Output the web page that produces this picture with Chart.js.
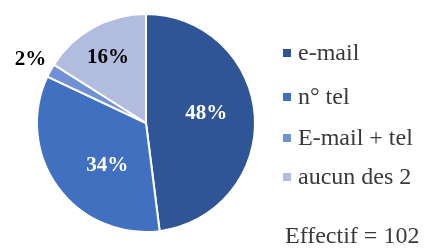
<!DOCTYPE html>
<html>
<head>
<meta charset="utf-8">
<script src="https://cdn.jsdelivr.net/npm/chart.js@4.4.1/dist/chart.umd.min.js"></script>
<style>
  html, body { margin: 0; padding: 0; background: #fff; }
  #wrap { width: 431px; height: 252px; position: relative; }
</style>
</head>
<body>
<div id="wrap"><canvas id="pie"></canvas></div>
<script>
// data
const categories = ['e-mail', 'n° tel', 'E-mail + tel', 'aucun des 2'];
const percents = [48, 34, 2, 16];
const sliceColors = ['#2F5597', '#4170C1', '#7190D5', '#B1BCDE'];
const totalLabel = 'Effectif = 102';

// where each % label sits: fraction of radius + angle shift (deg)
const labelSpots = [
  { r: 0.56, da: -5, color: '#ffffff' },
  { r: 0.53, da: -12, color: '#ffffff' },
  { r: 1.21, da: 0, color: '#000000' },
  { r: 0.69, da: -1.5, color: '#000000' }
];

const pctLabels = {
  id: 'pctLabels',
  afterDatasetsDraw(chart) {
    const ctx = chart.ctx;
    const arcs = chart.getDatasetMeta(0).data;
    ctx.save();
    ctx.font = 'bold 21px "Liberation Serif", "Times New Roman", serif';
    ctx.textAlign = 'center';
    ctx.textBaseline = 'middle';
    arcs.forEach((arc, i) => {
      const p = arc.getProps(['x', 'y', 'startAngle', 'endAngle', 'outerRadius'], true);
      const mid = (p.startAngle + p.endAngle) / 2 + labelSpots[i].da * Math.PI / 180;
      const r = p.outerRadius * labelSpots[i].r;
      ctx.fillStyle = labelSpots[i].color;
      ctx.fillText(percents[i] + '%', p.x + Math.cos(mid) * r, p.y + Math.sin(mid) * r);
    });
    ctx.restore();
  }
};

const sideLegend = {
  id: 'sideLegend',
  afterDraw(chart) {
    const ctx = chart.ctx;
    const x0 = 283;
    const rows = [53, 97, 138, 177];
    ctx.save();
    ctx.font = '24px "Liberation Serif", "Times New Roman", serif';
    ctx.textBaseline = 'middle';
    ctx.textAlign = 'left';
    categories.forEach((c, i) => {
      ctx.fillStyle = sliceColors[i];
      ctx.fillRect(x0, rows[i] - 4, 8, 8);
      ctx.fillStyle = '#3a3a3a';
      ctx.fillText(c, x0 + 15, rows[i] + 1);
    });
    ctx.fillText(totalLabel, 285, 237);
    ctx.restore();
  }
};

new Chart(document.getElementById('pie'), {
  type: 'pie',
  data: {
    labels: categories,
    datasets: [{
      data: percents,
      backgroundColor: sliceColors,
      borderColor: '#ffffff',
      borderWidth: 2
    }]
  },
  options: {
    responsive: true,
    maintainAspectRatio: false,
    animation: false,
    layout: { padding: { left: 36, right: 175, top: 13, bottom: 19 } },
    plugins: {
      legend: { display: false },
      tooltip: { enabled: false }
    }
  },
  plugins: [pctLabels, sideLegend]
});
</script>
</body>
</html>
